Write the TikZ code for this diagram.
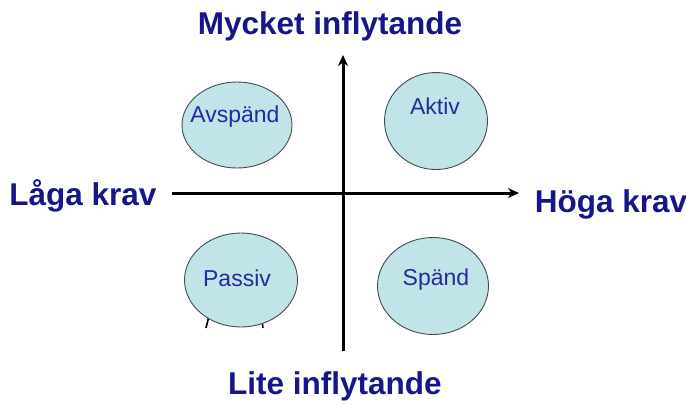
\documentclass[tikz,border=0pt]{standalone}
\usepackage{fontspec}
\setmainfont{Liberation Sans}
\usetikzlibrary{arrows.meta,shapes.geometric}
\definecolor{titleblue}{RGB}{22,22,138}
\definecolor{labelblue}{RGB}{40,40,160}
\definecolor{bubble}{RGB}{192,228,231}
\definecolor{rim}{RGB}{70,75,80}
\tikzset{
  axis/.style={line width=3pt, draw=black, -{Stealth[length=11pt,width=10pt]}},
  bubblebox/.style={ellipse, fill=bubble, draw=rim, line width=0.9pt, inner sep=0pt},
  bubbletext/.style={text=labelblue, font=\fontsize{23}{26}\selectfont},
  heading/.style={text=titleblue, font=\fontsize{31.5}{34}\selectfont\bfseries, inner sep=0pt}
}
\begin{document}
\begin{tikzpicture}[x=1pt,y=-1pt]
\useasboundingbox (0,0) rectangle (686,405);
\fill[white] (0,0) rectangle (686,405);

% axes
\coordinate (vlow) at (343,351);
\coordinate (vtop) at (343,55);
\coordinate (hleft) at (172,193);
\coordinate (hright) at (519,193);
\draw[axis] (vlow) -- (vtop);
\draw[axis] (hleft) -- (hright);

% small stray strokes peeking out under the lower-left bubble
\draw[line width=1.6pt, black] (209,316) -- (206,328);
\draw[line width=1.6pt, black] (212,318) -- (225,323);
\draw[line width=1.6pt, black] (262,320) -- (263,328);

% quadrant bubbles
\node[bubblebox, minimum width=110pt, minimum height=86pt] (avspand) at (237,125) {};
\node[bubblebox, minimum width=103pt, minimum height=97pt] (aktiv) at (436,121) {};
\node[bubblebox, minimum width=113pt, minimum height=94pt] (passiv) at (241,280) {};
\node[bubblebox, minimum width=111pt, minimum height=97pt] (spand) at (433,286) {};

\node[bubbletext] (tavspand) at (235,117) {Avspänd};
\node[bubbletext] (taktiv) at (435,106) {Aktiv};
\node[bubbletext] (tpassiv) at (237,278) {Passiv};
\node[bubbletext] (tspand) at (436,280) {Spänd};

% axis headings
\node[heading] (top) at (330,26) {Mycket inflytande};
\node[heading] (bottom) at (335,386) {Lite inflytande};
\node[heading] (left) at (83,196) {Låga krav};
\node[heading] (right) at (611,204) {Höga krav};
\end{tikzpicture}
\end{document}
